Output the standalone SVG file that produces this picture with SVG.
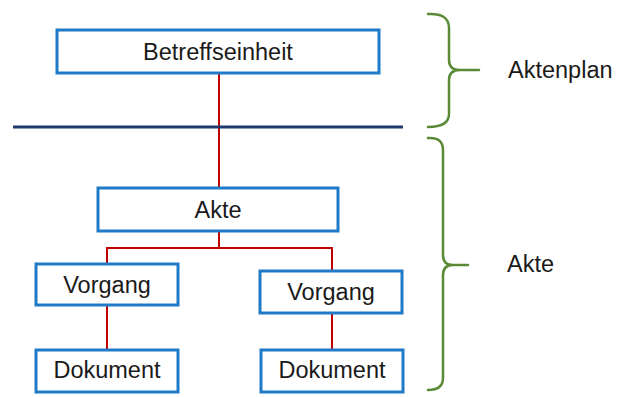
<svg xmlns="http://www.w3.org/2000/svg" width="631" height="397" viewBox="0 0 631 397">
<style>
.box{fill:#fff;stroke:#1f7bc8;stroke-width:3}
.t{font-family:"Liberation Sans",Arial,sans-serif;font-size:23.5px;fill:#1a1a1a;text-anchor:middle}
.tl{font-family:"Liberation Sans",Arial,sans-serif;font-size:23.5px;fill:#1a1a1a}
.con{fill:none;stroke:#c00000;stroke-width:2}
.brace{fill:none;stroke:#5a8a36;stroke-width:2.5;stroke-linecap:round;stroke-linejoin:round}
</style>
<rect width="631" height="397" fill="#fff"/>
<g id="connectors">
<path class="con" d="M219,73 V188"/>
<path class="con" d="M219,231 V248 M107,264 V248 H332 V270"/>
<path class="con" d="M107,305 V350"/>
<path class="con" d="M332,313 V350"/>
</g>
<line x1="13" y1="127" x2="403" y2="127" stroke="#1f3a6e" stroke-width="3"/>
<g id="betreffseinheit"><rect class="box" x="57" y="30" width="322" height="43"/><text class="t" x="218" y="60">Betreffseinheit</text></g>
<g id="akte"><rect class="box" x="98" y="188" width="240" height="43"/><text class="t" x="218" y="218">Akte</text></g>
<g id="vorgang1"><rect class="box" x="36" y="264" width="142" height="41"/><text class="t" x="107" y="293">Vorgang</text></g>
<g id="vorgang2"><rect class="box" x="260" y="271" width="142" height="42"/><text class="t" x="331" y="300">Vorgang</text></g>
<g id="dokument1"><rect class="box" x="36" y="350" width="142" height="42"/><text class="t" x="107" y="378">Dokument</text></g>
<g id="dokument2"><rect class="box" x="261" y="350" width="142" height="42"/><text class="t" x="332" y="378">Dokument</text></g>
<g id="brace-aktenplan">
<path class="brace" d="M428,14 Q449,13 449,28 V60 Q449,70 460,70 H479 M460,70 Q449,70 449,80 V114 Q449,127 428,127"/>
<text class="tl" x="508" y="78">Aktenplan</text>
</g>
<g id="brace-akte">
<path class="brace" d="M428,138 Q443,137 443,150 V255 Q443,265 453,265 H468 M453,265 Q443,265 443,275 V378 Q443,390 428,390"/>
<text class="tl" x="507" y="272">Akte</text>
</g>
</svg>
